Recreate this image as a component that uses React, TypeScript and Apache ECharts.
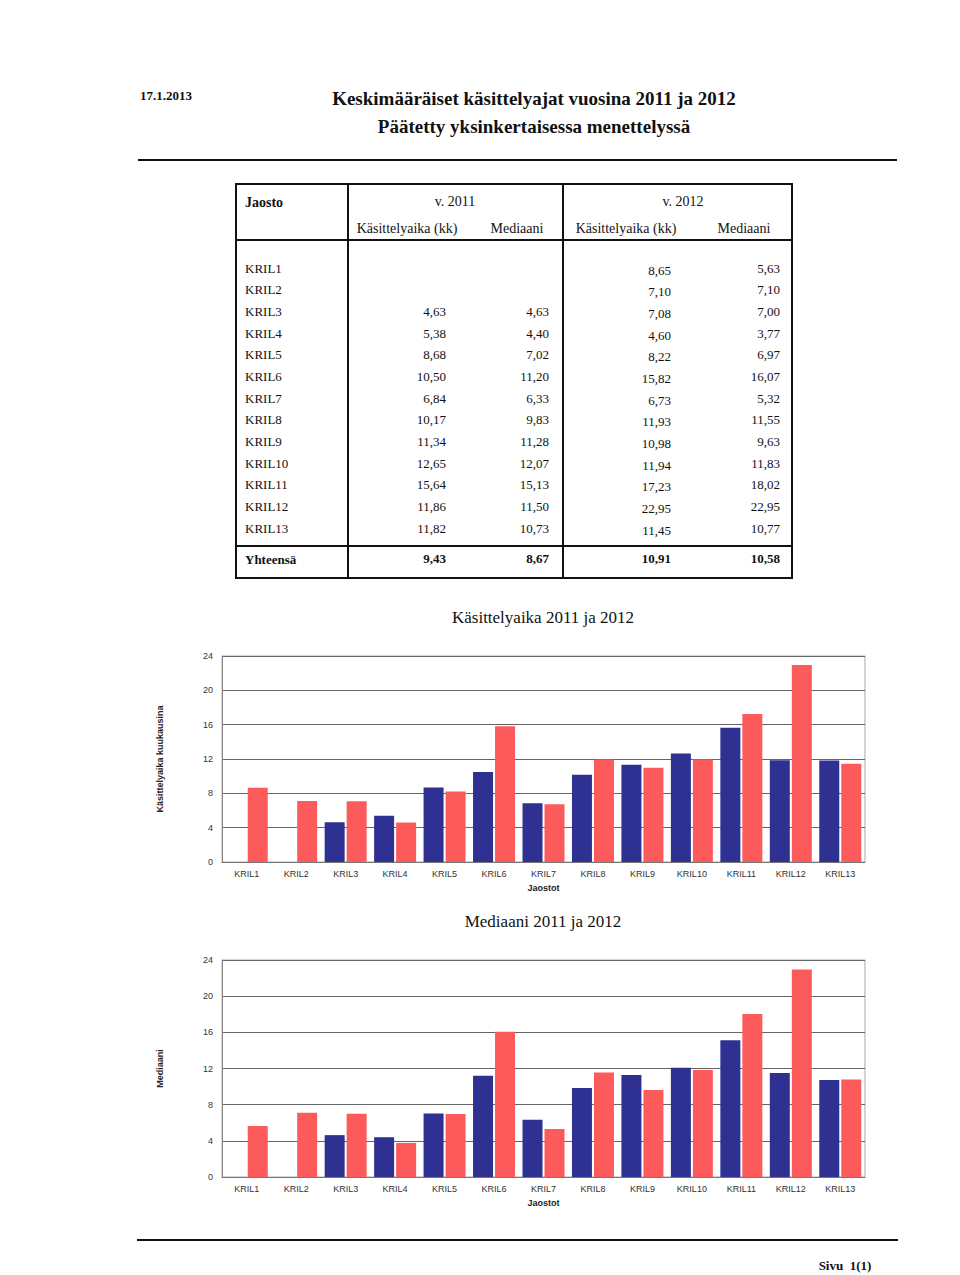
import React, { useEffect, useRef } from "react";
import * as echarts from "echarts";

const categories = ["KRIL1", "KRIL2", "KRIL3", "KRIL4", "KRIL5", "KRIL6", "KRIL7", "KRIL8", "KRIL9", "KRIL10", "KRIL11", "KRIL12", "KRIL13"];
const kasittely2011: (number | null)[] = [null, null, 4.63, 5.38, 8.68, 10.5, 6.84, 10.17, 11.34, 12.65, 15.64, 11.86, 11.82];
const mediaani2011: (number | null)[] = [null, null, 4.63, 4.4, 7.02, 11.2, 6.33, 9.83, 11.28, 12.07, 15.13, 11.5, 10.73];
const kasittely2012: number[] = [8.65, 7.1, 7.08, 4.6, 8.22, 15.82, 6.73, 11.93, 10.98, 11.94, 17.23, 22.95, 11.45];
const mediaani2012: number[] = [5.63, 7.1, 7.0, 3.77, 6.97, 16.07, 5.32, 11.55, 9.63, 11.83, 18.02, 22.95, 10.77];
const yhteensa: number[] = [9.43, 8.67, 10.91, 10.58];

const BLUE = "#2e3192";
const RED = "#fd5b5b";
const SERIF = "'Liberation Serif', 'Times New Roman', serif";
const SANS = "'Liberation Sans', Arial, sans-serif";

const fmt = (v: number | null) => (v == null ? "" : v.toFixed(2).replace(".", ","));

function txt(text: string, x: number, y: number, opts: any = {}) {
  return {
    type: "text",
    x,
    y,
    silent: true,
    style: {
      text,
      fill: opts.fill || "#111",
      fontFamily: opts.family || SERIF,
      fontSize: opts.size || 13,
      fontWeight: opts.weight || "normal",
      textAlign: opts.align || "left",
      textVerticalAlign: "middle",
    },
  };
}

function line(x1: number, y1: number, x2: number, y2: number, w = 2, c = "#111") {
  return { type: "line", silent: true, shape: { x1, y1, x2, y2 }, style: { stroke: c, lineWidth: w } };
}

export default function App() {
  const ref = useRef<HTMLDivElement>(null);
  useEffect(() => {
    if (!ref.current) return;
    const chart = echarts.init(ref.current, undefined, { renderer: "svg" });

    const graphics: any[] = [];
    // header
    graphics.push(txt("17.1.2013", 140, 95, { weight: "bold", size: 13 }));
    graphics.push(txt("Keskimääräiset käsittelyajat vuosina 2011 ja 2012", 534, 98, { weight: "bold", size: 19, align: "center" }));
    graphics.push(txt("Päätetty yksinkertaisessa menettelyssä", 534, 126, { weight: "bold", size: 19, align: "center" }));
    graphics.push(line(138, 160, 897, 160, 2));

    // table
    const tL = 236, tR = 792, tT = 184, tB = 578;
    graphics.push({ type: "rect", silent: true, shape: { x: tL, y: tT, width: tR - tL, height: tB - tT }, style: { fill: "none", stroke: "#111", lineWidth: 2 } });
    graphics.push(line(tL, 240, tR, 240, 2));
    graphics.push(line(tL, 546, tR, 546, 2));
    graphics.push(line(348, tT, 348, tB, 2));
    graphics.push(line(563, tT, 563, tB, 2));
    graphics.push(txt("Jaosto", 245, 202, { weight: "bold", size: 14 }));
    graphics.push(txt("v. 2011", 455, 201, { align: "center", size: 14 }));
    graphics.push(txt("v. 2012", 683, 201, { align: "center", size: 14 }));
    graphics.push(txt("Käsittelyaika (kk)", 407, 228, { align: "center", size: 14 }));
    graphics.push(txt("Mediaani", 517, 228, { align: "center", size: 14 }));
    graphics.push(txt("Käsittelyaika (kk)", 626, 228, { align: "center", size: 14 }));
    graphics.push(txt("Mediaani", 744, 228, { align: "center", size: 14 }));
    const colRight = [446, 549, 671, 780];
    categories.forEach((c, i) => {
      const y = 268 + i * 21.67;
      graphics.push(txt(c, 245, y));
      graphics.push(txt(fmt(kasittely2011[i]), colRight[0], y, { align: "right" }));
      graphics.push(txt(fmt(mediaani2011[i]), colRight[1], y, { align: "right" }));
      graphics.push(txt(fmt(kasittely2012[i]), colRight[2], y + 2, { align: "right" }));
      graphics.push(txt(fmt(mediaani2012[i]), colRight[3], y, { align: "right" }));
    });
    graphics.push(txt("Yhteensä", 245, 559, { weight: "bold" }));
    yhteensa.forEach((v, i) => graphics.push(txt(fmt(v), colRight[i], 558, { weight: "bold", align: "right" })));

    // chart titles
    graphics.push(txt("Käsittelyaika 2011 ja 2012", 543, 617, { size: 17, align: "center" }));
    graphics.push(txt("Mediaani 2011 ja 2012", 543, 921, { size: 17, align: "center" }));

    // footer
    graphics.push(line(137, 1240, 898, 1240, 2));
    graphics.push(txt("Sivu  1(1)", 845, 1265, { weight: "bold", align: "center" }));

    const xAxisBase = (gridIndex: number) => ({
      type: "category",
      gridIndex,
      data: categories,
      name: "Jaostot",
      nameLocation: "middle",
      nameGap: 21,
      nameTextStyle: { fontFamily: SANS, fontSize: 9, fontWeight: "bold", color: "#222" },
      axisTick: { show: false },
      axisLine: { lineStyle: { color: "#777", width: 1 } },
      axisLabel: { fontFamily: SANS, fontSize: 9, color: "#333", margin: 7, interval: 0 },
    });
    const yAxisBase = (gridIndex: number, name: string) => ({
      type: "value",
      gridIndex,
      min: 0,
      max: 24,
      interval: 4,
      name,
      nameLocation: "middle",
      nameGap: 58,
      nameTextStyle: { fontFamily: SANS, fontSize: 9, fontWeight: "bold", color: "#222" },
      axisLine: { show: true, lineStyle: { color: "#888", width: 1 } },
      axisTick: { show: false },
      axisLabel: { fontFamily: SANS, fontSize: 9, color: "#333", margin: 9 },
      splitLine: { lineStyle: { color: "#666", width: 1 } },
    });
    const barBase = { type: "bar", barWidth: 20, barGap: "10%", silent: true };

    chart.setOption({
      animation: false,
      backgroundColor: "#fff",
      grid: [
        { left: 222, right: 960 - 865, top: 656, height: 206, show: true, borderColor: "#aaa", borderWidth: 1, backgroundColor: "transparent" },
        { left: 222, right: 960 - 865, top: 960, height: 217, show: true, borderColor: "#aaa", borderWidth: 1, backgroundColor: "transparent" },
      ],
      xAxis: [xAxisBase(0), xAxisBase(1)],
      yAxis: [yAxisBase(0, "Käsittelyaika kuukausina"), yAxisBase(1, "Mediaani")],
      series: [
        { ...barBase, name: "2011", xAxisIndex: 0, yAxisIndex: 0, data: kasittely2011, itemStyle: { color: BLUE } },
        { ...barBase, name: "2012", xAxisIndex: 0, yAxisIndex: 0, data: kasittely2012, itemStyle: { color: RED } },
        { ...barBase, name: "2011", xAxisIndex: 1, yAxisIndex: 1, data: mediaani2011, itemStyle: { color: BLUE } },
        { ...barBase, name: "2012", xAxisIndex: 1, yAxisIndex: 1, data: mediaani2012, itemStyle: { color: RED } },
      ],
      graphic: graphics,
    });
    return () => chart.dispose();
  }, []);
  return <div ref={ref} style={{ position: "absolute", left: 0, top: 0, width: 960, height: 1275 }} />;
}
